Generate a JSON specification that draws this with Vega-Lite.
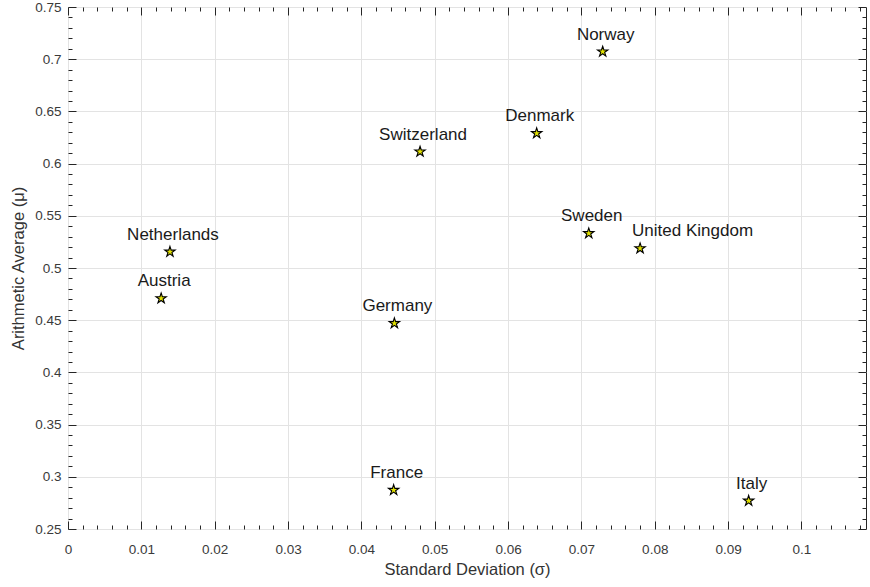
{
  "$schema": "https://vega.github.io/schema/vega-lite/v6.json",
  "autosize": {"type": "none"},
  "padding": {"left": 68, "top": 7, "right": 4, "bottom": 58},
  "width": 798,
  "height": 522,
  "background": "white",
  "config": {
    "font": "Liberation Sans",
    "view": {"stroke": "#262626", "strokeWidth": 1},
    "axis": {"labelFont": "Liberation Sans", "titleFont": "Liberation Sans", "labelColor": "#3a3a3a", "titleColor": "#333333", "titleFontWeight": "normal", "tickColor": "#262626", "gridColor": "#e3e3e3", "gridWidth": 1}
  },
  "data": {"values": [
      {"country": "Norway", "sd": 0.0729, "avg": 0.7072},
      {"country": "Denmark", "sd": 0.0639, "avg": 0.6290},
      {"country": "Switzerland", "sd": 0.0480, "avg": 0.6114},
      {"country": "Sweden", "sd": 0.0710, "avg": 0.5332},
      {"country": "United Kingdom", "sd": 0.0780, "avg": 0.5188},
      {"country": "Netherlands", "sd": 0.0139, "avg": 0.5155},
      {"country": "Austria", "sd": 0.0127, "avg": 0.4709},
      {"country": "Germany", "sd": 0.0445, "avg": 0.4470},
      {"country": "France", "sd": 0.0444, "avg": 0.2873},
      {"country": "Italy", "sd": 0.0928, "avg": 0.2770}
  ]},
  "resolve": {"axis": {"x": "independent", "y": "independent"}},
  "layer": [
    {
      "mark": {"type": "point", "shape": "M0,-1L0.2245,-0.309L0.951,-0.309L0.363,0.118L0.588,0.809L0,0.382L-0.588,0.809L-0.363,0.118L-0.951,-0.309L-0.2245,-0.309Z", "size": 118, "filled": true, "fill": "#e2e200", "stroke": "#000000", "strokeWidth": 1.1, "opacity": 1},
      "encoding": {
        "x": {"field": "sd", "type": "quantitative",
          "scale": {"domain": [0, 0.1088], "nice": false, "zero": false},
          "axis": {"orient": "bottom", "values": [0, 0.01, 0.02, 0.03, 0.04, 0.05, 0.06, 0.07, 0.08, 0.09, 0.1], "format": "~g", "grid": true, "ticks": false, "domain": false, "labelFontSize": 13.5, "labelPadding": 13, "labelFlush": false, "labelOverlap": false, "title": "Standard Deviation (σ)", "titleFontSize": 16.5, "titlePadding": 6}},
        "y": {"field": "avg", "type": "quantitative",
          "scale": {"domain": [0.25, 0.75], "nice": false, "zero": false},
          "axis": {"orient": "left", "values": [0.25, 0.3, 0.35, 0.4, 0.45, 0.5, 0.55, 0.6, 0.65, 0.7, 0.75], "format": "~g", "grid": true, "ticks": false, "domain": false, "labelFontSize": 13.5, "labelPadding": 7, "labelFlush": false, "labelOverlap": false, "title": "Arithmetic Average (μ)", "titleFontSize": 16.5, "titlePadding": 8}}
      }
    },
    {
      "mark": {"type": "point", "opacity": 0},
      "encoding": {
        "x": {"field": "sd", "type": "quantitative",
          "axis": {"orient": "bottom", "offset": -8, "tickSize": 8, "values": [0, 0.01, 0.02, 0.03, 0.04, 0.05, 0.06, 0.07, 0.08, 0.09, 0.1], "labels": false, "grid": false, "domain": false, "title": null}},
        "y": {"field": "avg", "type": "quantitative",
          "axis": {"orient": "left", "offset": -8, "tickSize": 8, "values": [0.25, 0.3, 0.35, 0.4, 0.45, 0.5, 0.55, 0.6, 0.65, 0.7, 0.75], "labels": false, "grid": false, "domain": false, "title": null}}
      }
    },
    {
      "mark": {"type": "point", "opacity": 0},
      "encoding": {
        "x": {"field": "sd", "type": "quantitative",
          "axis": {"orient": "bottom", "offset": -4, "tickSize": 4, "values": [0.002, 0.004, 0.006, 0.008, 0.012, 0.014, 0.016, 0.018, 0.022, 0.024, 0.026, 0.028, 0.032, 0.034, 0.036, 0.038, 0.042, 0.044, 0.046, 0.048, 0.052, 0.054, 0.056, 0.058, 0.062, 0.064, 0.066, 0.068, 0.072, 0.074, 0.076, 0.078, 0.082, 0.084, 0.086, 0.088, 0.092, 0.094, 0.096, 0.098, 0.102, 0.104, 0.106, 0.108], "labels": false, "grid": false, "domain": false, "title": null}},
        "y": {"field": "avg", "type": "quantitative",
          "axis": {"orient": "left", "offset": -4, "tickSize": 4, "values": [0.26, 0.27, 0.28, 0.29, 0.31, 0.32, 0.33, 0.34, 0.36, 0.37, 0.38, 0.39, 0.41, 0.42, 0.43, 0.44, 0.46, 0.47, 0.48, 0.49, 0.51, 0.52, 0.53, 0.54, 0.56, 0.57, 0.58, 0.59, 0.61, 0.62, 0.63, 0.64, 0.66, 0.67, 0.68, 0.69, 0.71, 0.72, 0.73, 0.74], "labels": false, "grid": false, "domain": false, "title": null}}
      }
    },
    {
      "mark": {"type": "point", "opacity": 0},
      "encoding": {
        "x": {"field": "sd", "type": "quantitative",
          "axis": {"orient": "top", "offset": -8, "tickSize": 8, "values": [0, 0.01, 0.02, 0.03, 0.04, 0.05, 0.06, 0.07, 0.08, 0.09, 0.1], "labels": false, "grid": false, "domain": false, "title": null}},
        "y": {"field": "avg", "type": "quantitative",
          "axis": {"orient": "right", "offset": -8, "tickSize": 8, "values": [0.25, 0.3, 0.35, 0.4, 0.45, 0.5, 0.55, 0.6, 0.65, 0.7, 0.75], "labels": false, "grid": false, "domain": false, "title": null}}
      }
    },
    {
      "mark": {"type": "point", "opacity": 0},
      "encoding": {
        "x": {"field": "sd", "type": "quantitative",
          "axis": {"orient": "top", "offset": -4, "tickSize": 4, "values": [0.002, 0.004, 0.006, 0.008, 0.012, 0.014, 0.016, 0.018, 0.022, 0.024, 0.026, 0.028, 0.032, 0.034, 0.036, 0.038, 0.042, 0.044, 0.046, 0.048, 0.052, 0.054, 0.056, 0.058, 0.062, 0.064, 0.066, 0.068, 0.072, 0.074, 0.076, 0.078, 0.082, 0.084, 0.086, 0.088, 0.092, 0.094, 0.096, 0.098, 0.102, 0.104, 0.106, 0.108], "labels": false, "grid": false, "domain": false, "title": null}},
        "y": {"field": "avg", "type": "quantitative",
          "axis": {"orient": "right", "offset": -4, "tickSize": 4, "values": [0.26, 0.27, 0.28, 0.29, 0.31, 0.32, 0.33, 0.34, 0.36, 0.37, 0.38, 0.39, 0.41, 0.42, 0.43, 0.44, 0.46, 0.47, 0.48, 0.49, 0.51, 0.52, 0.53, 0.54, 0.56, 0.57, 0.58, 0.59, 0.61, 0.62, 0.63, 0.64, 0.66, 0.67, 0.68, 0.69, 0.71, 0.72, 0.73, 0.74], "labels": false, "grid": false, "domain": false, "title": null}}
      }
    },
    {
      "transform": [{"filter": "datum.country != 'United Kingdom'"}],
      "mark": {"type": "text", "align": "center", "baseline": "alphabetic", "dx": 3, "dy": -12, "fontSize": 17, "font": "Liberation Sans", "color": "#1a1a1a"},
      "encoding": {
        "x": {"field": "sd", "type": "quantitative", "axis": null},
        "y": {"field": "avg", "type": "quantitative", "axis": null},
        "text": {"field": "country"}
      }
    },
    {
      "transform": [{"filter": "datum.country == 'United Kingdom'"}],
      "mark": {"type": "text", "align": "left", "baseline": "alphabetic", "dx": -8, "dy": -12, "fontSize": 17, "font": "Liberation Sans", "color": "#1a1a1a"},
      "encoding": {
        "x": {"field": "sd", "type": "quantitative", "axis": null},
        "y": {"field": "avg", "type": "quantitative", "axis": null},
        "text": {"field": "country"}
      }
    }
  ]
}
